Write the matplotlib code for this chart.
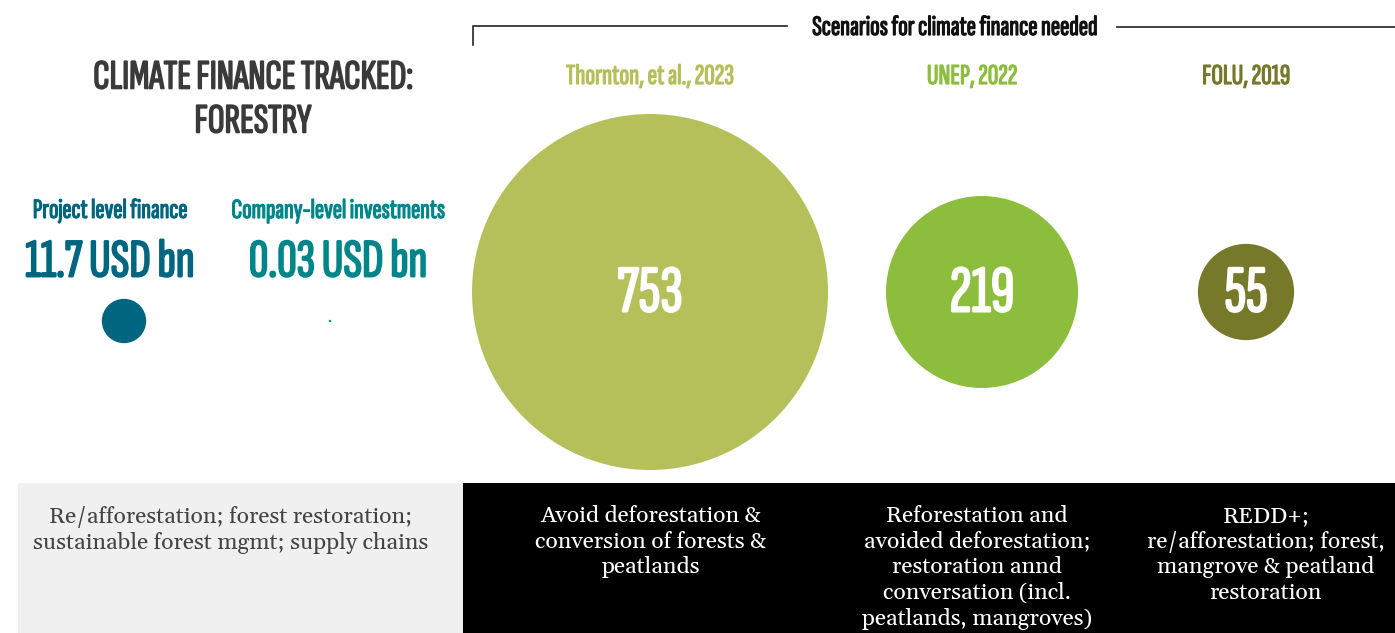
import matplotlib
matplotlib.use("Agg")
import numpy as np
import matplotlib.pyplot as plt
import matplotlib.patheffects as pe
from matplotlib.patches import Circle, Rectangle

# tracked finance (USD bn)
tracked_labels = ["Project level finance", "Company-level investments"]
tracked_values = [11.7, 0.03]
tracked_text = ["11.7 USD bn", "0.03 USD bn"]
tracked_desc = "Re/afforestation; forest restoration;\nsustainable forest mgmt; supply chains"

# needs scenarios (USD bn)
scen_sources = ["Thornton, et al., 2023", "UNEP, 2022", "FOLU, 2019"]
scen_values = [753, 219, 55]
scen_desc = [
    "Avoid deforestation &\nconversion of forests &\npeatlands",
    "Reforestation and\navoided deforestation;\nrestoration annd\nconversation (incl.\npeatlands, mangroves)",
    "REDD+;\nre/afforestation; forest,\nmangrove & peatland\nrestoration",
]

COND = ['Sofia Sans Extra Condensed', 'Fira Sans Extra Condensed', 'DejaVu Sans']
SERIF = ['Gelasio', 'DejaVu Serif']

TRACK_COLORS = ['#006680', '#00868a']
SCEN_COLORS = ['#b5c05a', '#8dbd3c', '#76792a']
DARK = '#3a3a3a'


def heavy(color, lw=1.0):
    # the condensed face only ships one weight; thicken it with a stroke
    return [pe.withStroke(linewidth=lw, foreground=color)]


W, H = 1395, 633
fig = plt.figure(figsize=(W / 100, H / 100), dpi=100)
ax = fig.add_axes([0, 0, 1, 1])
ax.set_xlim(0, W)
ax.set_ylim(H, 0)
ax.set_aspect('equal')
ax.axis('off')

# radius in pixels per sqrt(USD bn), so circle area follows value
k = 178 / np.sqrt(753)

# title
for y, line in [(78, "CLIMATE FINANCE TRACKED:"), (122, "FORESTRY")]:
    ax.text(253, y, line, family=COND, fontsize=30, color=DARK,
            ha='center', va='center', path_effects=heavy(DARK, 1.2))

# tracked side
tx = [110, 338]
cx = [124, 330]
for i in range(2):
    c = TRACK_COLORS[i]
    ax.text(tx[i], 211, tracked_labels[i], family=COND, fontsize=20,
            color=c, ha='center', va='center', path_effects=heavy(c, 0.9))
    ax.text(tx[i], 263, tracked_text[i], family=COND, fontsize=39,
            color=c, ha='center', va='center', path_effects=heavy(c, 1.4))
    r = max(k * np.sqrt(tracked_values[i]), 1.2)
    ax.add_patch(Circle((cx[i], 321), r, color=c, lw=0))

# scenario bracket
ax.plot([473, 473, 787], [45, 26, 26], color='#222222', lw=1.2)
ax.plot([1117, W], [27, 27], color='#222222', lw=1.2)
ax.text(955, 28, "Scenarios for climate finance needed", family=COND,
        fontsize=20.3, color='#111111', ha='center', va='center',
        path_effects=heavy('#111111', 0.9))

sx = [650, 982, 1246]
lx = [650, 972, 1246]
dx = [651, 977, 1266]
for i in range(3):
    c = SCEN_COLORS[i]
    ax.text(lx[i], 77, scen_sources[i], family=COND, fontsize=20.8,
            color=c, ha='center', va='center', path_effects=heavy(c, 0.9))
    r = k * np.sqrt(scen_values[i])
    ax.add_patch(Circle((sx[i], 292), r, color=c, lw=0))
    ax.text(sx[i], 295, str(scen_values[i]), family=COND, fontsize=48,
            color='white', ha='center', va='center',
            path_effects=heavy('white', 1.5))

# description boxes
ax.add_patch(Rectangle((18, 483), 445, 150, color='#f0f0f0', lw=0))
ax.add_patch(Rectangle((463, 483), W - 463, 150, color='black', lw=0))
ax.text(231, 506, tracked_desc, family=SERIF, fontsize=16.5, color='#444444',
        ha='center', va='top', linespacing=1.22)
for i in range(3):
    ax.text(dx[i], 505, scen_desc[i], family=SERIF, fontsize=16.5,
            color='white', ha='center', va='top', linespacing=1.22)

fig.savefig("out.png", dpi=100)
